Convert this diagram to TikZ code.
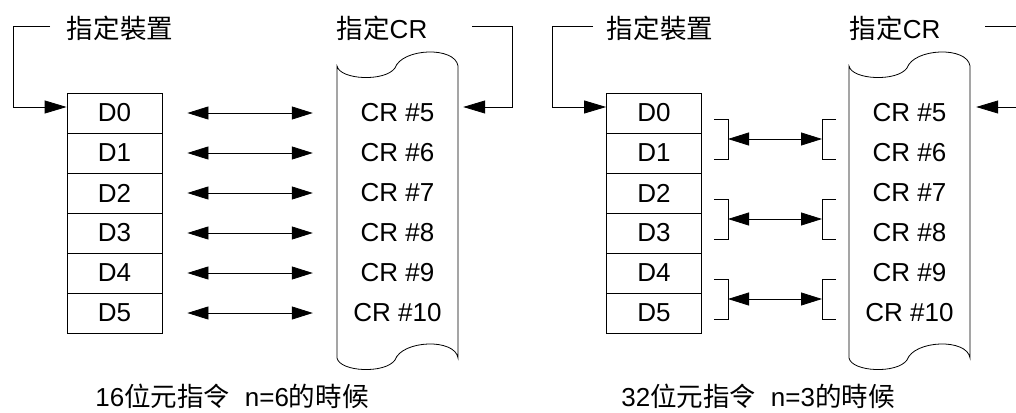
\documentclass[tikz,border=0pt]{standalone}
\usepackage{fontspec}
\setmainfont{Liberation Sans}
\newfontfamily\cjk{Noto Sans CJK TC}[Scale=1.02]
\usetikzlibrary{arrows.meta}

\tikzset{
  wire/.style={line width=0.8pt},
  cell/.style={draw,line width=0.8pt,minimum width=95pt,minimum height=40pt,inner sep=0pt},
  crlbl/.style={minimum width=121pt,minimum height=40pt,inner sep=0pt},
  feed/.style={line width=0.8pt,-{Triangle[length=22pt,width=13pt]}},
  link/.style={line width=0.8pt,{Triangle[length=21pt,width=13pt]}-{Triangle[length=21pt,width=13pt]}}
}

\begin{document}
\begin{tikzpicture}[x=1pt,y=-1pt,font=\fontsize{26}{31}\selectfont]
    \useasboundingbox (0,0) rectangle (1016,412);
    \clip (0,0) rectangle (1016,412);
    % scrolls
    \foreach \s in {337,849}{
      \draw[wire] (\s,66) .. controls (\s+3,80) and (\s+48,82) .. (\s+58,68)
        .. controls (\s+65,48) and (\s+118,46) .. (\s+121,66) -- (\s+121,358)
        .. controls (\s+118,338) and (\s+65,340) .. (\s+58,360)
        .. controls (\s+48,374) and (\s+3,372) .. (\s,358) -- cycle;
    }
    % 16 bit, n=6
    \node (devA) at (120,28) {\cjk 指定裝置};
    \node (crtA) at (382,28) {{\cjk 指定}CR};
    \foreach \i/\n in {0/5,1/6,2/7,3/8,4/9,5/10}{
      \node[cell] (dA\i) at (114.5,{113+40*\i}) {D\i};
      \node[crlbl] (crA\i) at (397.5,{113+40*\i}) {CR \#\n};
      \draw[link] ([xshift=25pt]dA\i.east) -- ([xshift=-24pt]crA\i.west);
    }
    \coordinate (tA1) at (50,26);
    \coordinate (kA1) at (13,26);
    \coordinate (tA2) at (472,26);
    \coordinate (kA2) at (512,26);
    \draw[feed] (tA1) -- (kA1) |- ([yshift=6pt]dA0.west);
    \draw[feed] (tA2) -- (kA2) |- ([xshift=5pt,yshift=6pt]crA0.east);
    \node (capA) at (232,396) {16{\cjk 位元指令}\ \ n=6{\cjk 的時候}};
    % 32 bit, n=3
    \node (devB) at (660,28) {\cjk 指定裝置};
    \node (crtB) at (895,28) {{\cjk 指定}CR};
    \foreach \i/\n in {0/5,1/6,2/7,3/8,4/9,5/10}{
      \node[cell] (dB\i) at (654,{113+40*\i}) {D\i};
      \node[crlbl] (crB\i) at (909.5,{113+40*\i}) {CR \#\n};
    }
    \foreach \k [evaluate=\k as \y using 119+80*\k] in {0,1,2}{
      \draw[wire] (714,\y) -| (728,\y+40) -- (714,\y+40);
      \draw[wire] (836,\y) -| (822,\y+40) -- (836,\y+40);
      \coordinate (jL\k) at (728,\y+20);
      \coordinate (jR\k) at (822,\y+20);
      \draw[link] (jL\k) -- (jR\k);
    }
    \coordinate (tB1) at (593,26);
    \coordinate (kB1) at (552,26);
    \coordinate (tB2) at (985,26);
    \coordinate (kB2) at (1025,26);
    \draw[feed] (tB1) -- (kB1) |- ([yshift=6pt]dB0.west);
    \draw[feed] (tB2) -- (kB2) |- ([xshift=6pt,yshift=6pt]crB0.east);
    \node (capB) at (758,396) {32{\cjk 位元指令}\ \ n=3{\cjk 的時候}};
  \end{tikzpicture}
\end{document}
